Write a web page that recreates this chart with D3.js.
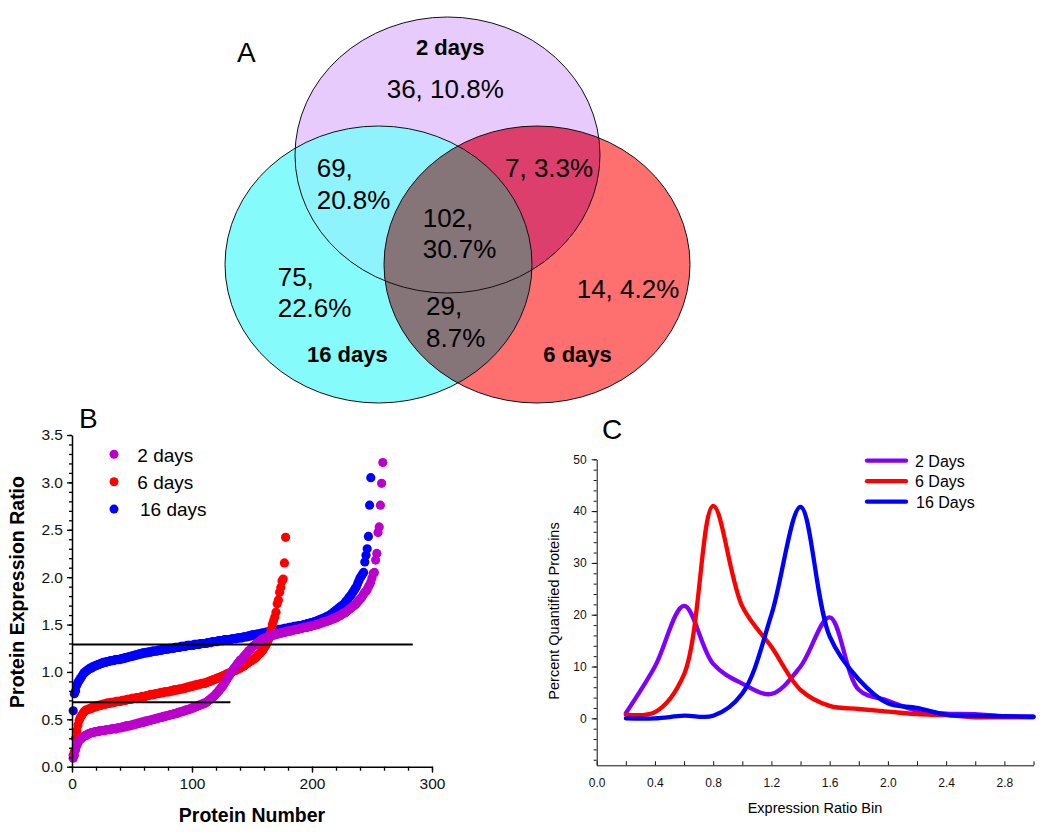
<!DOCTYPE html>
<html>
<head>
<meta charset="utf-8">
<script src="https://cdn.jsdelivr.net/npm/d3@7"></script>
<style>
  body { margin: 0; background: #fff; }
  svg { display: block; font-family: "Liberation Sans", Arial, sans-serif; }
</style>
</head>
<body>
<svg id="chart" width="1050" height="834"></svg>
<script>
// ---------------------------------------
// Data: panel A (Venn)
// ---------------------------------------
const vennSets = ["2 days", "6 days", "16 days"];
const vennRegions = ["2", "2+6", "2+16", "2+6+16", "16", "6+16", "6"];
const vennCounts = [36, 7, 69, 102, 75, 29, 14];
const vennPercents = ["10.8%", "3.3%", "20.8%", "30.7%", "22.6%", "8.7%", "4.2%"];

// ---------------------------------------
// Data: panel B (sorted expression ratio per protein)
// ---------------------------------------
const seriesB = ["2 days", "6 days", "16 days"];
const ratio2d = [
  0.09,0.12,0.18,0.22,0.25,0.28,0.29,0.30,0.31,0.32,
  0.33,0.33,0.34,0.35,0.35,0.36,0.36,0.36,0.37,0.37,
  0.37,0.37,0.38,0.38,0.38,0.38,0.38,0.39,0.39,0.39,
  0.39,0.39,0.40,0.40,0.40,0.40,0.40,0.41,0.41,0.41,
  0.41,0.42,0.42,0.42,0.43,0.43,0.43,0.43,0.44,0.44,
  0.44,0.45,0.45,0.45,0.46,0.46,0.46,0.47,0.47,0.47,
  0.48,0.48,0.48,0.49,0.49,0.49,0.50,0.50,0.50,0.51,
  0.51,0.51,0.52,0.52,0.52,0.53,0.53,0.53,0.54,0.54,
  0.54,0.55,0.55,0.55,0.56,0.56,0.56,0.57,0.57,0.58,
  0.58,0.58,0.59,0.59,0.60,0.60,0.60,0.61,0.61,0.62,
  0.62,0.63,0.63,0.64,0.64,0.65,0.65,0.66,0.66,0.67,
  0.67,0.68,0.69,0.70,0.71,0.72,0.73,0.74,0.75,0.77,
  0.78,0.80,0.81,0.83,0.84,0.86,0.88,0.90,0.92,0.94,
  0.96,0.98,1.00,1.02,1.04,1.05,1.07,1.09,1.10,1.12,
  1.13,1.14,1.16,1.17,1.19,1.20,1.22,1.23,1.24,1.26,
  1.27,1.28,1.29,1.30,1.31,1.32,1.33,1.34,1.35,1.35,
  1.36,1.36,1.37,1.37,1.38,1.38,1.39,1.39,1.39,1.40,
  1.40,1.40,1.41,1.41,1.41,1.42,1.42,1.42,1.43,1.43,
  1.43,1.43,1.44,1.44,1.44,1.45,1.45,1.45,1.45,1.46,
  1.46,1.46,1.47,1.47,1.47,1.47,1.48,1.48,1.48,1.49,
  1.49,1.49,1.50,1.50,1.50,1.51,1.51,1.52,1.52,1.53,
  1.53,1.53,1.54,1.54,1.55,1.55,1.56,1.56,1.57,1.57,
  1.58,1.59,1.59,1.60,1.61,1.62,1.62,1.63,1.64,1.65,
  1.66,1.67,1.68,1.69,1.70,1.71,1.72,1.74,1.75,1.77,
  1.78,1.80,1.82,1.84,1.85,1.87,1.90,1.92,1.95,1.99,
  2.04,2.05,2.18,2.25,2.47,2.53,2.76,2.99,3.21
];
const ratio6d = [
  0.12,0.16,0.30,0.38,0.44,0.49,0.52,0.54,0.56,0.58,
  0.59,0.60,0.60,0.61,0.61,0.62,0.62,0.63,0.63,0.64,
  0.64,0.64,0.65,0.65,0.65,0.66,0.66,0.66,0.67,0.67,
  0.67,0.67,0.68,0.68,0.68,0.68,0.69,0.69,0.69,0.69,
  0.69,0.70,0.70,0.70,0.70,0.71,0.71,0.71,0.71,0.72,
  0.72,0.72,0.72,0.73,0.73,0.73,0.73,0.74,0.74,0.74,
  0.74,0.75,0.75,0.75,0.76,0.76,0.76,0.76,0.77,0.77,
  0.77,0.77,0.78,0.78,0.78,0.78,0.79,0.79,0.79,0.79,
  0.79,0.80,0.80,0.80,0.81,0.81,0.81,0.81,0.82,0.82,
  0.82,0.82,0.83,0.83,0.83,0.84,0.84,0.84,0.85,0.85,
  0.85,0.86,0.86,0.86,0.87,0.87,0.87,0.88,0.88,0.88,
  0.88,0.89,0.89,0.90,0.90,0.91,0.91,0.92,0.92,0.93,
  0.93,0.94,0.94,0.95,0.95,0.96,0.96,0.97,0.98,0.98,
  0.99,0.99,1.00,1.01,1.01,1.02,1.02,1.03,1.04,1.04,
  1.05,1.06,1.06,1.07,1.08,1.09,1.10,1.11,1.12,1.12,
  1.13,1.14,1.15,1.16,1.18,1.19,1.20,1.22,1.23,1.25,
  1.27,1.29,1.32,1.35,1.40,1.45,1.50,1.54,1.58,1.63,
  1.72,1.76,1.84,1.89,1.96,1.98,2.15,2.42
];
const ratio16d = [
  0.59,0.77,0.80,0.86,0.89,0.91,0.93,0.95,0.97,0.99,
  1.00,1.01,1.02,1.03,1.04,1.04,1.05,1.06,1.06,1.07,
  1.07,1.08,1.08,1.09,1.09,1.10,1.10,1.10,1.11,1.11,
  1.11,1.12,1.12,1.12,1.12,1.13,1.13,1.13,1.13,1.13,
  1.14,1.14,1.14,1.15,1.15,1.15,1.16,1.16,1.16,1.17,
  1.17,1.17,1.18,1.18,1.18,1.19,1.19,1.19,1.20,1.20,
  1.20,1.20,1.21,1.21,1.21,1.21,1.22,1.22,1.22,1.22,
  1.22,1.23,1.23,1.23,1.23,1.24,1.24,1.24,1.24,1.24,
  1.25,1.25,1.25,1.25,1.25,1.26,1.26,1.26,1.26,1.26,
  1.27,1.27,1.27,1.27,1.27,1.28,1.28,1.28,1.28,1.28,
  1.28,1.29,1.29,1.29,1.29,1.29,1.30,1.30,1.30,1.30,
  1.30,1.30,1.31,1.31,1.31,1.31,1.32,1.32,1.32,1.32,
  1.32,1.33,1.33,1.33,1.33,1.33,1.34,1.34,1.34,1.34,
  1.34,1.34,1.35,1.35,1.35,1.35,1.35,1.36,1.36,1.36,
  1.36,1.36,1.37,1.37,1.37,1.37,1.38,1.38,1.38,1.39,
  1.39,1.39,1.39,1.40,1.40,1.40,1.40,1.41,1.41,1.41,
  1.41,1.42,1.42,1.42,1.43,1.43,1.43,1.43,1.44,1.44,
  1.44,1.44,1.45,1.45,1.45,1.45,1.46,1.46,1.46,1.46,
  1.47,1.47,1.47,1.47,1.48,1.48,1.48,1.48,1.49,1.49,
  1.49,1.49,1.50,1.50,1.50,1.51,1.51,1.51,1.52,1.52,
  1.52,1.53,1.53,1.54,1.54,1.55,1.55,1.56,1.56,1.57,
  1.57,1.58,1.59,1.59,1.60,1.61,1.62,1.63,1.64,1.65,
  1.66,1.67,1.68,1.69,1.70,1.71,1.72,1.74,1.75,1.77,
  1.79,1.80,1.82,1.84,1.86,1.88,1.90,1.93,1.96,1.99,
  2.01,2.03,2.05,2.16,2.23,2.30,2.43,2.76,3.05
];
const cutoffValues = [1.29, 0.68];
const cutoffEnds = [284, 132];   // protein number where each line stops

// ---------------------------------------
// Data: panel C (distribution over ratio bins)
// ---------------------------------------
const seriesC = ["2 Days", "6 Days", "16 Days"];
const ratioBins = [0.2, 0.4, 0.6, 0.8, 1.0, 1.2, 1.4, 1.6, 1.8, 2.0, 2.2, 2.4, 2.6, 2.8, 3.0];
const pct2d  = [1.0, 10.0, 21.7, 10.5, 6.7, 4.7, 10.0, 19.5, 5.5, 3.4, 1.5, 0.9, 0.8, 0.4, 0.3];
const pct6d  = [0.7, 1.2, 8.5, 41.0, 21.6, 13.8, 5.5, 2.4, 1.8, 1.3, 0.8, 0.6, 0.2, 0.2, 0.2];
const pct16d = [0.0, 0.0, 0.5, 0.5, 4.8, 20.0, 40.8, 15.8, 7.5, 2.9, 2.0, 0.7, 0.5, 0.4, 0.3];

// ---------------------------------------
// Styles
// ---------------------------------------
const font = "'Liberation Sans', Arial, sans-serif";
const colB = { "2 days": "#bb00cc", "6 days": "#ff0000", "16 days": "#0000ff" };
const colC = { "2 Days": "#8000ff", "6 Days": "#ff0000", "16 Days": "#0000ff" };
const vennFill = { "2 days": "#e6cbfc", "16 days": "#86fbfb", "6 days": "#fe7070" };

const svg = d3.select("#chart");

// ---------------------------------------
// Panel A: Venn diagram
// ---------------------------------------
const vennShape = {
  "2 days":  { cx: 447.5, cy: 155,   rx: 152.5, ry: 138 },
  "16 days": { cx: 378.5, cy: 264.5, rx: 153.5, ry: 138.5 },
  "6 days":  { cx: 537,   cy: 264.5, rx: 153,   ry: 138.5 }
};
const gA = svg.append("g");
const defs = svg.append("defs");
vennSets.forEach((s, i) => {
  const e = vennShape[s];
  defs.append("clipPath").attr("id", "clip" + i)
    .append("ellipse").attr("cx", e.cx).attr("cy", e.cy).attr("rx", e.rx).attr("ry", e.ry);
});
const ell = (sel, s) => {
  const e = vennShape[s];
  return sel.append("ellipse").attr("cx", e.cx).attr("cy", e.cy).attr("rx", e.rx).attr("ry", e.ry);
};
// base fills
["2 days", "16 days", "6 days"].forEach(s => ell(gA, s).attr("fill", vennFill[s]));
// overlaps
ell(gA.append("g").attr("clip-path", "url(#clip0)"), "16 days").attr("fill", "#8ef3fc");
ell(gA.append("g").attr("clip-path", "url(#clip0)"), "6 days").attr("fill", "#dd3f6c");
ell(gA.append("g").attr("clip-path", "url(#clip2)"), "6 days").attr("fill", "#857579");
// outlines
vennSets.forEach(s => ell(gA, s).attr("fill", "none").attr("stroke", "#111").attr("stroke-width", 1));

// region labels
const regionPos = {
  "2":      { x: 386.7, y: [98] },
  "2+6":    { x: 505,   y: [176.7] },
  "2+16":   { x: 316.7, y: [176.7, 209] },
  "2+6+16": { x: 422.7, y: [226.7, 258.3] },
  "16":     { x: 277.7, y: [286, 317.3] },
  "6+16":   { x: 426,   y: [315, 346.7] },
  "6":      { x: 576.7, y: [298.3] }
};
vennRegions.forEach((r, i) => {
  const p = regionPos[r];
  const lines = p.y.length === 1
    ? [vennCounts[i] + ", " + vennPercents[i]]
    : [vennCounts[i] + ",", vennPercents[i]];
  lines.forEach((t, k) => {
    gA.append("text").attr("x", p.x).attr("y", p.y[k])
      .attr("font-size", 26).attr("fill", "#000").text(t);
  });
});
const setLabelPos = { "2 days": [416, 55], "6 days": [543.3, 361.7], "16 days": [307, 361.7] };
vennSets.forEach(s => {
  gA.append("text").attr("x", setLabelPos[s][0]).attr("y", setLabelPos[s][1])
    .attr("font-size", 22).attr("font-weight", "bold").text(s);
});
svg.append("text").attr("x", 237).attr("y", 62).attr("font-size", 28).text("A");

// ---------------------------------------
// Panel B: sorted ratios
// ---------------------------------------
const xB = d3.scaleLinear().domain([0, 300]).range([72, 432]);
const yB = d3.scaleLinear().domain([0, 3.5]).range([766.7, 435]);
const gB = svg.append("g");

const dataB = { "2 days": ratio2d, "6 days": ratio6d, "16 days": ratio16d };
["16 days", "6 days", "2 days"].forEach(s => {
  gB.append("g").selectAll("circle")
    .data(dataB[s])
    .enter().append("circle")
    .attr("cx", (d, i) => xB(i + 1))
    .attr("cy", d => yB(d))
    .attr("r", 4.6)
    .attr("fill", colB[s]);
});

// cutoff lines
gB.selectAll(".cut").data(cutoffValues).enter().append("line")
  .attr("x1", xB(0)).attr("x2", (d, i) => xB(cutoffEnds[i]))
  .attr("y1", d => yB(d)).attr("y2", d => yB(d))
  .attr("stroke", "#000").attr("stroke-width", 2);

// axes
const yAxisB = gB.append("g").attr("transform", `translate(${xB(0)},0)`)
  .call(d3.axisLeft(yB).tickValues(d3.range(0, 8).map(d => d * 0.5))
    .tickFormat(d3.format(".1f")).tickSize(5).tickPadding(4).tickSizeOuter(0));
gB.append("g").attr("transform", `translate(${xB(0)},0)`)
  .call(d3.axisLeft(yB).tickValues(d3.range(0, 36).map(d => d / 10)).tickFormat("").tickSize(3))
  .select(".domain").remove();
const xAxisB = gB.append("g").attr("transform", `translate(0,${yB(0)})`)
  .call(d3.axisBottom(xB).tickValues([0, 100, 200, 300]).tickSize(6).tickPadding(5).tickSizeOuter(0));
gB.append("g").attr("transform", `translate(0,${yB(0)})`)
  .call(d3.axisBottom(xB).tickValues(d3.range(0, 16).map(d => d * 20)).tickFormat("").tickSize(4))
  .select(".domain").remove();
gB.selectAll(".domain").attr("stroke-width", 1.5);
gB.selectAll(".tick line").attr("stroke-width", 1.3);
[yAxisB, xAxisB].forEach(a => a.selectAll("text").attr("font-size", 15.5).attr("font-family", font).attr("fill", "#111"));

gB.append("text").attr("x", 252).attr("y", 822).attr("text-anchor", "middle")
  .attr("font-size", 19.5).attr("font-weight", "bold").text("Protein Number");
gB.append("text").attr("transform", "translate(24,592) rotate(-90)").attr("text-anchor", "middle")
  .attr("font-size", 19.5).attr("font-weight", "bold").text("Protein Expression Ratio");
svg.append("text").attr("x", 79).attr("y", 428).attr("font-size", 28).text("B");

// legend B
const legB = gB.append("g");
seriesB.forEach((s, i) => {
  const ly = 454.3 + i * 27.4;
  legB.append("circle").attr("cx", 114).attr("cy", ly).attr("r", 4.5).attr("fill", colB[s]);
  legB.append("text").attr("x", s === "16 days" ? 140 : 137.3).attr("y", ly + 7.3)
    .attr("font-size", 19).text(s);
});

// ---------------------------------------
// Panel C: distributions
// ---------------------------------------
const xC = d3.scaleLinear().domain([0, 3]).range([596.7, 1033.5]);
const yC = d3.scaleLinear().domain([-9.07, 50]).range([765.3, 459.3]);
const gC = svg.append("g");

const dataC = { "2 Days": pct2d, "6 Days": pct6d, "16 Days": pct16d };
const lineC = d3.line()
  .x(d => xC(d[0])).y(d => yC(d[1]))
  .curve(d3.curveCatmullRom.alpha(0.5));
seriesC.forEach(s => {
  gC.append("path")
    .datum(ratioBins.map((b, i) => [b, dataC[s][i]]))
    .attr("d", lineC)
    .attr("fill", "none")
    .attr("stroke", colC[s])
    .attr("stroke-width", 4.3)
    .attr("stroke-linecap", "round")
    .attr("stroke-linejoin", "round");
});

const yAxisC = gC.append("g").attr("transform", `translate(${xC(0)},0)`)
  .call(d3.axisLeft(yC).tickValues([0, 10, 20, 30, 40, 50]).tickSize(5).tickPadding(5).tickSizeOuter(0));
gC.append("g").attr("transform", `translate(${xC(0)},0)`)
  .call(d3.axisLeft(yC).tickValues(d3.range(-4, 26).map(d => d * 2)).tickFormat("").tickSize(3))
  .select(".domain").remove();
const xAxisC = gC.append("g").attr("transform", `translate(0,${yC.range()[0]})`)
  .call(d3.axisBottom(xC).tickValues(d3.range(0, 16).map(d => d / 5))
    .tickFormat(d => Math.round(d * 10) % 4 === 0 ? d3.format(".1f")(d) : "")
    .tickSizeInner(-4).tickSizeOuter(0).tickPadding(13));
[yAxisC, xAxisC].forEach(a => a.selectAll("text").attr("font-size", 12).attr("font-family", font).attr("fill", "#111"));
gC.selectAll(".domain, .tick line").attr("stroke", "#111");

gC.append("text").attr("x", 815).attr("y", 813).attr("text-anchor", "middle")
  .attr("font-size", 14.5).text("Expression Ratio Bin");
gC.append("text").attr("transform", "translate(559,611) rotate(-90)").attr("text-anchor", "middle")
  .attr("font-size", 14.5).text("Percent Quantified Proteins");
svg.append("text").attr("x", 602).attr("y", 439).attr("font-size", 28).text("C");

// legend C
seriesC.forEach((s, i) => {
  const ly = 460.7 + i * 20.5;
  gC.append("line").attr("x1", 867).attr("x2", 906).attr("y1", ly).attr("y2", ly)
    .attr("stroke", colC[s]).attr("stroke-width", 4.3).attr("stroke-linecap", "round");
  gC.append("text").attr("x", s === "16 Days" ? 916 : 915).attr("y", ly + 6)
    .attr("font-size", 16).text(s);
});
</script>
</body>
</html>
